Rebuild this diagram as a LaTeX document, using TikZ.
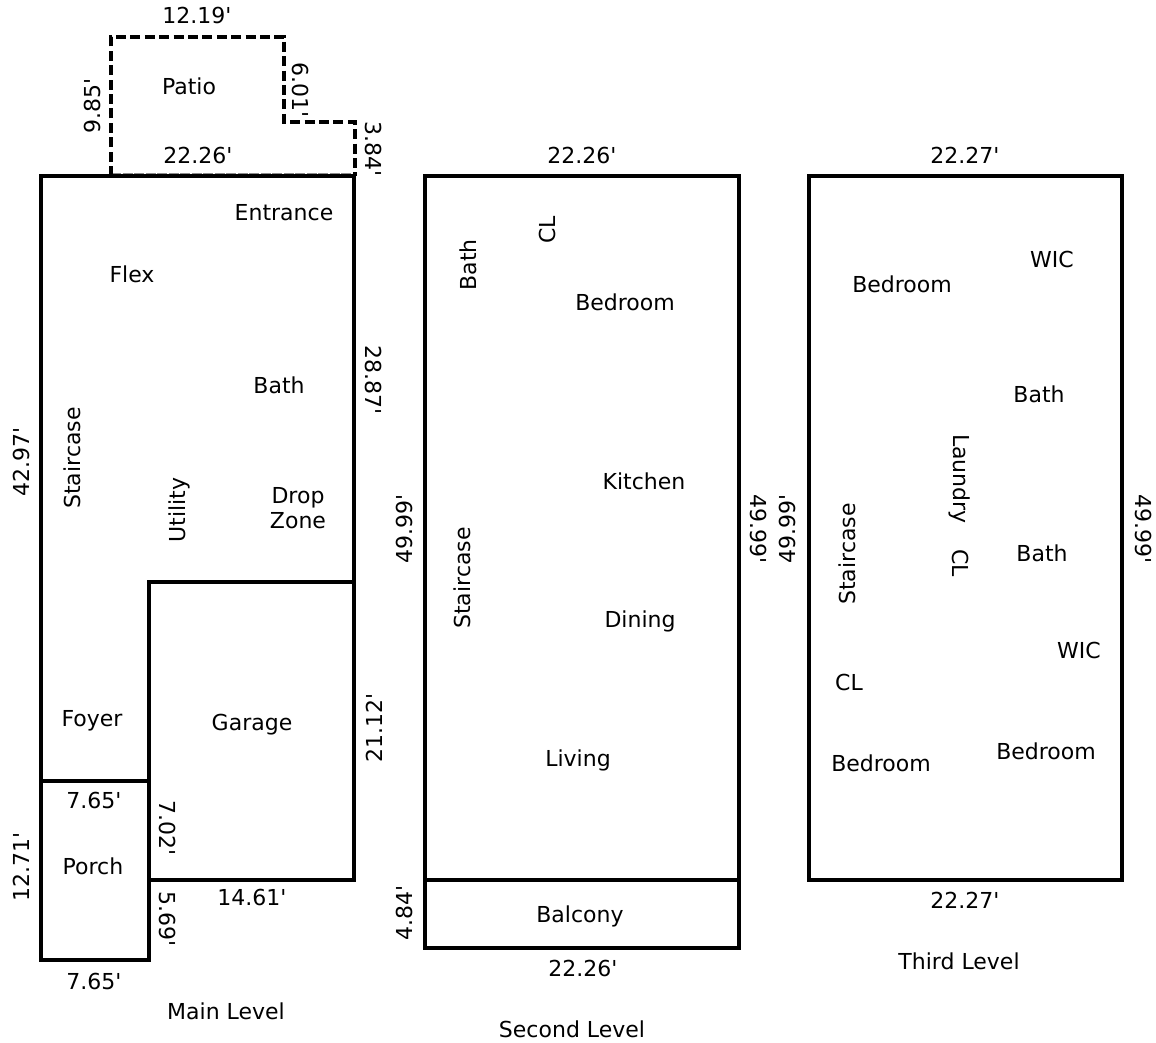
\documentclass[tikz,border=0pt]{standalone}
\usepackage{fontspec}
\setmainfont{DejaVu Sans}
\newcommand{\ft}{\textquotesingle}
\tikzset{
  x=1pt,y=-1pt,
  wall/.style={draw=black,line width=4pt,line cap=butt,line join=miter},
  dashwall/.style={draw=black,line width=4pt,dash pattern=on 10pt off 4.4pt},
  faint/.style={draw=black!45,line width=.8pt,dash pattern=on 10pt off 1.5pt},
  lbl/.style={inner sep=0pt,font=\fontsize{22}{25}\selectfont,align=center,text=black},
  vu/.style={lbl,rotate=90},
  vd/.style={lbl,rotate=-90},
}
\begin{document}
\begin{tikzpicture}
\useasboundingbox (0,0) rectangle (1156,1043);
\fill[white] (0,0) rectangle (1156,1043);
% patio
\coordinate (p0) at (111,176);
\coordinate (p1) at (111,37);
\coordinate (p2) at (284,37);
\coordinate (p3) at (284,122);
\coordinate (p4) at (355,122);
\coordinate (p5) at (355,176);
\draw[faint] (111,173.4) -- (355,173.4);
\draw[dashwall] (p0) -- (p1) -- (p2) -- (p3) -- (p4) -- (p5);
% main level
\draw[wall] (41,176) -- (354,176) -- (354,582) -- (149,582) -- (149,960) -- (41,960) -- cycle;
\draw[wall] (149,582) -- (354,582) -- (354,880) -- (149,880);
\draw[wall] (41,781) -- (149,781);
% second
\draw[wall] (425,176) rectangle (739,880);
\draw[wall] (425,880) -- (425,948) -- (739,948) -- (739,880);
% third
\draw[wall] (809,176) rectangle (1122,880);
% main labels
\node[lbl] (t1) at (197,15) {12.19\ft};
\node[vd] (t2) at (301,90) {6.01\ft};
\node[vu] (t3) at (92,106) {9.85\ft};
\node[lbl] (t4) at (189,86) {Patio};
\node[vd] (t5) at (374,149) {3.84\ft};
\node[lbl] (t6) at (198,155) {22.26\ft};
\node[lbl] (t7) at (284,212.5) {Entrance};
\node[lbl] (t8) at (132,274) {Flex};
\node[lbl] (t9) at (279,385) {Bath};
\node[vd] (t10) at (374,380) {28.87\ft};
\node[vu] (t11) at (72,458) {Staircase};
\node[vu] (t12) at (21,462) {42.97\ft};
\node[vu] (t13) at (179,510) {Utility};
\node[lbl] (t14) at (298,508) {Drop\\Zone};
\node[lbl] (t15) at (92,721) {Foyer};
\node[lbl] (t16) at (252,725) {Garage};
\node[vu] (t17) at (374,728) {21.12\ft};
\node[lbl] (t18) at (94,800) {7.65\ft};
\node[vd] (t19) at (168,828) {7.02\ft};
\node[lbl] (t20) at (93,866) {Porch};
\node[vu] (t21) at (21,867) {12.71\ft};
\node[lbl] (t22) at (252,897) {14.61\ft};
\node[vd] (t23) at (168,919) {5.69\ft};
\node[lbl] (t24) at (94,981) {7.65\ft};
\node[lbl] (t25) at (226,1011) {Main Level};
% second labels
\node[lbl] (s1) at (582,155) {22.26\ft};
\node[vu] (s2) at (547,230) {CL};
\node[vu] (s3) at (468,265) {Bath};
\node[lbl] (s4) at (625,302) {Bedroom};
\node[lbl] (s5) at (644,481) {Kitchen};
\node[vu] (s6) at (404,529) {49.99\ft};
\node[vd] (s7) at (758,529) {49.99\ft};
\node[vu] (s8) at (462,578) {Staircase};
\node[lbl] (s9) at (640,621) {Dining};
\node[lbl] (s10) at (578,760) {Living};
\node[lbl] (s11) at (580,916) {Balcony};
\node[vu] (s12) at (404,913) {4.84\ft};
\node[lbl] (s13) at (583,968) {22.26\ft};
\node[lbl] (s14) at (572,1029) {Second Level};
% third labels
\node[lbl] (h1) at (965,155) {22.27\ft};
\node[lbl] (h2) at (1052,259) {WIC};
\node[lbl] (h3) at (902,284) {Bedroom};
\node[lbl] (h4) at (1039,394) {Bath};
\node[vd] (h5) at (960,479) {Laundry};
\node[vu] (h6) at (787,529) {49.99\ft};
\node[vd] (h7) at (1143,529) {49.99\ft};
\node[vd] (h8) at (960,563) {CL};
\node[lbl] (h9) at (1042,553) {Bath};
\node[vu] (h10) at (847,554) {Staircase};
\node[lbl] (h11) at (1079,650) {WIC};
\node[lbl] (h12) at (849,682) {CL};
\node[lbl] (h13) at (881,763) {Bedroom};
\node[lbl] (h14) at (1046,751) {Bedroom};
\node[lbl] (h15) at (965,900) {22.27\ft};
\node[lbl] (h16) at (959,961) {Third Level};
\end{tikzpicture}
\end{document}
